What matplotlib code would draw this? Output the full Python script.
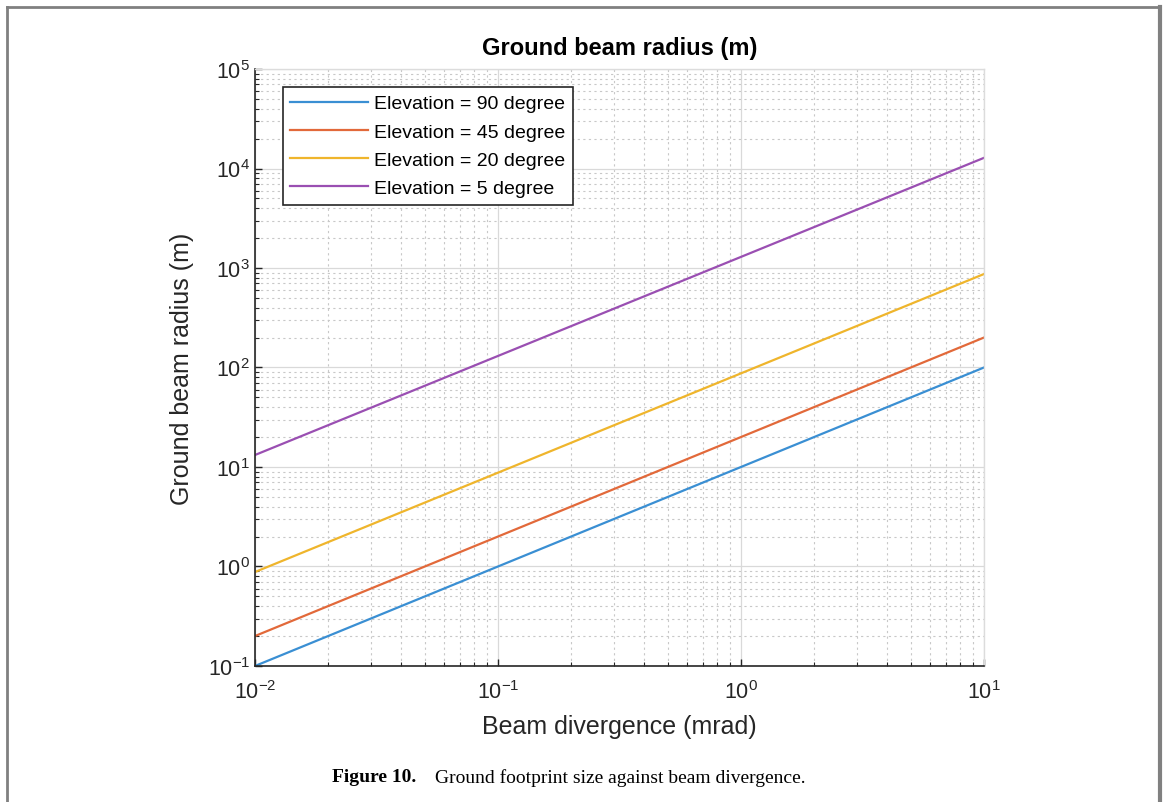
import matplotlib.pyplot as plt
from matplotlib.lines import Line2D
from matplotlib.ticker import LogLocator, NullFormatter

plt.rcParams['font.family'] = ['Liberation Sans', 'DejaVu Sans']
plt.rcParams['mathtext.fontset'] = 'custom'
plt.rcParams['mathtext.rm'] = 'Liberation Sans'
plt.rcParams['axes.unicode_minus'] = False

# Beam divergence (mrad) end points; lines are straight on log-log axes
divergence = [0.01, 10]
labels = ['Elevation = 90 degree', 'Elevation = 45 degree',
          'Elevation = 20 degree', 'Elevation = 5 degree']
radius_90 = [0.1, 100]
radius_45 = [0.2, 200]
radius_20 = [0.88, 870]
radius_5 = [13.2, 12800]
colors = ['#3a8fd3', '#e2693a', '#efb52c', '#9a4fb2']

fig = plt.figure(figsize=(11.65, 8.03), dpi=100)
ax = fig.add_axes([0.2189, 0.1694, 0.6257, 0.7434])

for r, lab, c in zip([radius_90, radius_45, radius_20, radius_5], labels, colors):
    ax.plot(divergence, r, color=c, lw=1.6, label=lab)

ax.set_xscale('log')
ax.set_yscale('log')
ax.set_xlim(1e-2, 1e1)
ax.set_ylim(1e-1, 1e5)
ax.xaxis.set_major_locator(LogLocator(base=10, numticks=10))
ax.yaxis.set_major_locator(LogLocator(base=10, numticks=10))
ax.xaxis.set_minor_locator(LogLocator(base=10, subs=range(2, 10), numticks=20))
ax.yaxis.set_minor_locator(LogLocator(base=10, subs=range(2, 10), numticks=20))
ax.xaxis.set_minor_formatter(NullFormatter())
ax.yaxis.set_minor_formatter(NullFormatter())

# MATLAB-like grid
ax.grid(True, which='major', color='#d9d9d9', lw=0.9, ls='-')
ax.grid(True, which='minor', color='#c8c8c8', lw=0.8, ls=(0, (2, 3)))
ax.set_axisbelow(True)

ax.tick_params(which='both', direction='in', top=False, right=False,
               labelsize=15.5, colors='#262626')
ax.tick_params(which='major', length=5, width=1)
ax.tick_params(which='minor', length=3, width=0.8)
ax.tick_params(axis='x', pad=10)
for s in ['left', 'bottom']:
    ax.spines[s].set_color('#262626')
    ax.spines[s].set_linewidth(1.2)
for s in ['top', 'right']:
    ax.spines[s].set_color('#dcdcdc')
    ax.spines[s].set_linewidth(1.0)

ax.set_title('Ground beam radius (m)', fontsize=17, fontweight='bold', pad=11)
ax.set_xlabel('Beam divergence (mrad)', fontsize=18, color='#262626', labelpad=8)
ax.set_ylabel('Ground beam radius (m)', fontsize=18, color='#262626', labelpad=10)

leg = ax.legend(loc='upper left', bbox_to_anchor=(0.038, 0.97), fontsize=14,
                frameon=True, fancybox=False, handlelength=4.0, handletextpad=0.3,
                borderpad=0.4, labelspacing=0.55, borderaxespad=0)
leg.get_frame().set_edgecolor('#262626')
leg.get_frame().set_linewidth(1.2)
leg.get_frame().set_alpha(1)

# outer page frame
frame = [((7, 7), (803, 8), 2.0), ((7, 1160), (8, 8), 2.0), ((1160, 1160), (8, 803), 3.0)]
for xs, ys, w in frame:
    fig.add_artist(Line2D([x / 1165 for x in xs], [1 - y / 803 for y in ys],
                          color='#808080', lw=w, transform=fig.transFigure))

fig.text(0.285, 1 - 778 / 803, 'Figure 10.', family='Liberation Serif',
         fontweight='bold', fontsize=14, va='center', ha='left')
fig.text(0.373, 1 - 778 / 803, 'Ground footprint size against beam divergence.',
         family='Liberation Serif', fontsize=14, va='center', ha='left')

fig.savefig('out.png', dpi=100)
